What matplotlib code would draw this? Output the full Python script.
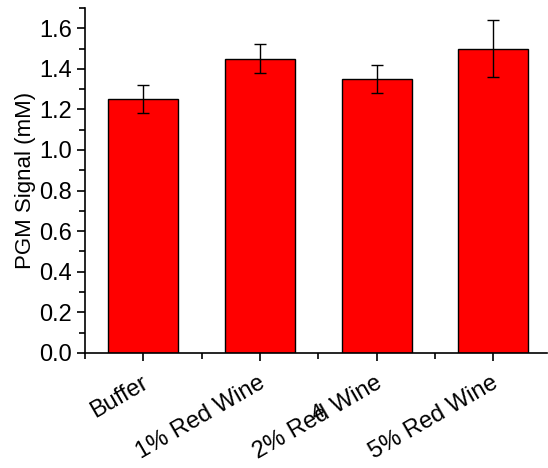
import numpy as np
import matplotlib
matplotlib.use('Agg')
import matplotlib.pyplot as plt
import matplotlib.transforms as mtransforms
from matplotlib.ticker import MultipleLocator

# PGM signal for each sample
labels = ['Buffer', '1% Red Wine', '2% Red Wine', '5% Red Wine']
signal = [1.25, 1.45, 1.35, 1.50]
errors = [0.07, 0.07, 0.07, 0.14]

plt.rcParams['font.family'] = ['Liberation Sans', 'DejaVu Sans']

fig = plt.figure(figsize=(5.48, 4.68), dpi=100)
ax = fig.add_axes([0.155, 0.246, 0.843, 0.737])

x = np.arange(1, len(labels) + 1)
ax.bar(x, signal, width=0.6, color='#ff0000', edgecolor='black', linewidth=1.0,
       yerr=errors, error_kw=dict(ecolor='black', elinewidth=1.0, capsize=4, capthick=1.0))

ax.set_xlim(0.5, 4.46)
ax.set_ylim(0, 1.7)

ax.set_xticks(x)
ax.set_xticklabels([])
ax.set_xticks(np.arange(0.5, 4.5, 1.0), minor=True)

# slanted category names, placed by hand below the ticks
base = mtransforms.blended_transform_factory(ax.transData, ax.transAxes)
shift = mtransforms.ScaledTranslation(9 / 100, -19 / 100, fig.dpi_scale_trans)
for xi, name in zip(x, labels):
    ax.text(xi, 0, name, transform=base + shift, rotation=30,
            ha='right', va='top', fontsize=17)

ax.yaxis.set_major_locator(MultipleLocator(0.2))
ax.yaxis.set_minor_locator(MultipleLocator(0.1))
ax.tick_params(axis='y', labelsize=17)
ax.tick_params(which='major', direction='out', length=6, width=1.2)
ax.tick_params(which='minor', direction='out', length=4, width=1.2)
ax.set_ylabel('PGM Signal (mM)', fontsize=16, labelpad=2)

for side in ['top', 'right']:
    ax.spines[side].set_visible(False)
for side in ['left', 'bottom']:
    ax.spines[side].set_linewidth(1.2)

# stray label sitting on top of the third category name
fig.text(318 / 548, 1 - 413 / 468, '4', fontsize=16, rotation=30,
         ha='center', va='center')

fig.savefig('out.png', dpi=100)
